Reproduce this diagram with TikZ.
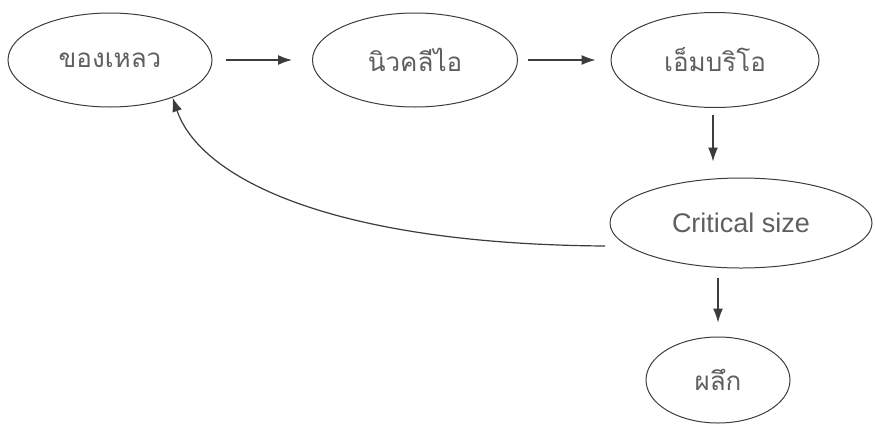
\documentclass[tikz,border=0pt]{standalone}
\usepackage{fontspec}
\setmainfont{Liberation Sans}
\newfontfamily\thaifont[Script=Thai]{Loma}
\usetikzlibrary{shapes.geometric,arrows.meta,calc}
\definecolor{linegray}{RGB}{60,60,60}
\definecolor{textgray}{RGB}{95,95,95}
\tikzset{
  oval/.style={ellipse,draw=linegray,line width=1pt,inner sep=0pt,text=textgray},
  thai/.style={font=\thaifont\fontsize{26}{29}\selectfont},
  latin/.style={font=\fontsize{27}{30}\selectfont},
  arr/.style={draw=linegray,line width=1.2pt,-{Latex[length=14pt,width=10pt]}}
}
\begin{document}
\begin{tikzpicture}[x=1pt,y=-1pt]
\useasboundingbox (0,0) rectangle (875,424);
\node[oval,thai,minimum width=204pt,minimum height=94pt] (a) at (110,60) {ของเหลว};
\node[oval,thai,minimum width=205pt,minimum height=94pt] (b) at (415,60) {นิวคลีไอ};
\node[oval,thai,minimum width=208pt,minimum height=95pt] (c) at (715,60) {เอ็มบริโอ};
\node[oval,latin,minimum width=262pt,minimum height=90pt] (d) at (741,223) {Critical size};
\node[oval,thai,minimum width=144pt,minimum height=86pt] (e) at (718,380) {ผลึก};
\draw[arr,shorten <=13pt,shorten >=20pt] (a.east) -- (b.west);
\draw[arr,shorten <=10pt,shorten >=15pt] (b.east) -- (c.west);
\draw[arr,shorten <=7pt,shorten >=16pt] ([xshift=-2pt]c.south) -- ([xshift=-2pt]c.south |- d.north);
\draw[arr,shorten <=9pt,shorten >=14pt] (e.north |- d.south) -- (e.north);
\coordinate (s) at (605,246);
\draw[arr] (s) .. controls (330,244) and (200,178) .. (a.-31);
\end{tikzpicture}
\end{document}
